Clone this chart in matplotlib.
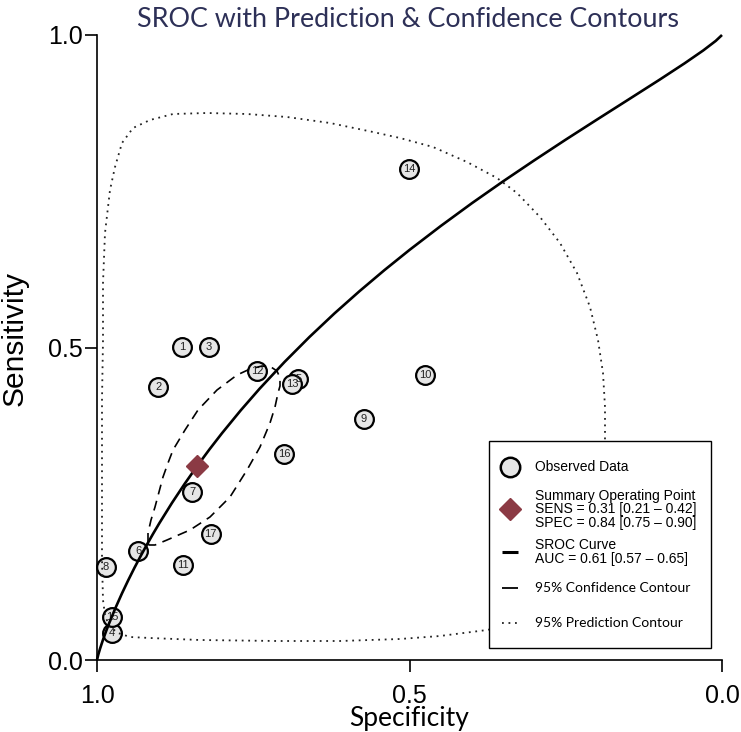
import matplotlib
matplotlib.use("Agg")
import matplotlib.pyplot as plt
from matplotlib.patches import Rectangle

# ---------------- data ----------------
study_ids = [str(i) for i in range(1, 18)]
study_spec = [0.864, 0.902, 0.821, 0.976, 0.678, 0.934, 0.848, 0.986, 0.573,
              0.475, 0.862, 0.744, 0.688, 0.501, 0.976, 0.701, 0.818]
study_sens = [0.501, 0.437, 0.501, 0.043, 0.450, 0.174, 0.269, 0.149, 0.386,
              0.456, 0.152, 0.463, 0.442, 0.786, 0.069, 0.330, 0.202]

summary_spec = 0.84
summary_sens = 0.31

# SROC curve (specificity, sensitivity) traced densely
sroc_spec = [1.0, 0.998, 0.995, 0.99, 0.985, 0.98, 0.97, 0.96, 0.95, 0.94, 0.93,
             0.92, 0.91, 0.90, 0.88, 0.86, 0.84, 0.82, 0.80, 0.77, 0.74, 0.70,
             0.66, 0.62, 0.58, 0.54, 0.50, 0.45, 0.40, 0.35, 0.30, 0.25, 0.20,
             0.15, 0.10, 0.06, 0.03, 0.01, 0.0]
sroc_sens = [0.0, 0.0084, 0.0185, 0.0336, 0.0473, 0.0602, 0.0843, 0.1067, 0.1277,
             0.1477, 0.1666, 0.1849, 0.2024, 0.2193, 0.2514, 0.2815, 0.3100,
             0.3371, 0.3629, 0.3995, 0.4339, 0.4768, 0.5169, 0.5546, 0.5901,
             0.6239, 0.6561, 0.6944, 0.7310, 0.7660, 0.7997, 0.8326, 0.8647,
             0.8965, 0.9284, 0.9546, 0.9753, 0.9906, 1.0]

# 95% confidence contour traced
conf_spec = [0.9184, 0.9184, 0.9136, 0.9072, 0.9008, 0.8944, 0.8864, 0.8784,
             0.8592, 0.8384, 0.808, 0.776, 0.7552, 0.736, 0.7216, 0.712, 0.7072,
             0.7072, 0.7104, 0.7152, 0.7232, 0.7392, 0.760, 0.7872, 0.8192,
             0.8512, 0.888, 0.9072, 0.9168, 0.9184]
conf_sens = [0.1872, 0.2032, 0.224, 0.2448, 0.2688, 0.2928, 0.3152, 0.336,
             0.368, 0.400, 0.432, 0.456, 0.4656, 0.4704, 0.4688, 0.4624, 0.4512,
             0.4384, 0.4272, 0.4048, 0.3792, 0.3408, 0.304, 0.2608, 0.2288,
             0.208, 0.192, 0.184, 0.184, 0.1872]

# 95% prediction contour traced
pred_spec = [0.9872, 0.9904, 0.992, 0.992, 0.992, 0.9904, 0.9904, 0.9872, 0.9792,
             0.9712, 0.960, 0.9424, 0.9152, 0.8784, 0.824, 0.760, 0.696, 0.6272,
             0.5584, 0.5152, 0.4624, 0.408, 0.360, 0.328, 0.2912, 0.2592, 0.232,
             0.2112, 0.1984, 0.1904, 0.1872, 0.1872, 0.1888, 0.1984, 0.2192,
             0.2592, 0.3152, 0.376, 0.4512, 0.5152, 0.6112, 0.712, 0.8352, 0.9152,
             0.9472, 0.9664, 0.9808, 0.9872]
pred_sens = [0.072, 0.096, 0.160, 0.288, 0.416, 0.512, 0.6032, 0.6832, 0.752,
             0.7888, 0.8272, 0.8512, 0.864, 0.8736, 0.8752, 0.8736, 0.8688, 0.8592,
             0.8448, 0.8352, 0.8208, 0.7968, 0.7712, 0.7472, 0.7088, 0.6672, 0.6192,
             0.5648, 0.512, 0.4592, 0.4048, 0.3552, 0.288, 0.208, 0.136,
             0.088, 0.0608, 0.048, 0.0384, 0.0336, 0.0304, 0.0304, 0.032, 0.0352,
             0.0368, 0.0432, 0.0544, 0.072]

tick_vals = [0.0, 0.5, 1.0]
tick_labels = ["0.0", "0.5", "1.0"]

title_text = "SROC with Prediction & Confidence Contours"
legend_lines = {
    "obs": ["Observed Data"],
    "sum": ["Summary Operating Point", "SENS = 0.31 [0.21 \u2013 0.42]",
            "SPEC = 0.84 [0.75 \u2013 0.90]"],
    "sroc": ["SROC Curve", "AUC = 0.61 [0.57 \u2013 0.65]"],
    "conf": ["95% Confidence Contour"],
    "pred": ["95% Prediction Contour"],
}

# ---------------- figure ----------------
W, H = 741, 732
fig = plt.figure(figsize=(W / 100, H / 100), dpi=100)
fig.patch.set_facecolor("white")
ax = fig.add_axes([97 / W, 1 - 660 / H, 625 / W, 625 / H])
ax.set_xlim(1, 0)
ax.set_ylim(0, 1)

HEL = "Liberation Sans"
MYR = "Lato"

for s in ["top", "right"]:
    ax.spines[s].set_visible(False)
for s in ["left", "bottom"]:
    ax.spines[s].set_linewidth(1.2)

ax.set_xticks(tick_vals)
ax.set_xticklabels(tick_labels)
ax.set_yticks(tick_vals)
ax.set_yticklabels(tick_labels)
ax.tick_params(axis="both", direction="out", length=8.5, width=1.2, labelsize=18)
ax.tick_params(axis="x", pad=8.5)
ax.tick_params(axis="y", pad=1.5)
for lab in ax.get_xticklabels() + ax.get_yticklabels():
    lab.set_fontfamily(HEL)

DOT = (0, (1, 2.6))

# points
ax.plot(study_spec, study_sens, linestyle="none", marker="o", ms=13.5,
        mfc="#e6e6e6", mec="black", mew=1.6, zorder=3, clip_on=False)
for sid, x, y in zip(study_ids, study_spec, study_sens):
    ax.text(x, y, sid, ha="center", va="center", fontsize=8, family=HEL,
            color="#222222", zorder=4)

# contours & curve
ax.plot(pred_spec, pred_sens, color="#222222", lw=1.3, linestyle=DOT,
        zorder=5)
ax.plot(conf_spec, conf_sens, color="black", lw=1.2, linestyle=(0, (6, 4)),
        zorder=5)
ax.plot(sroc_spec, sroc_sens, color="black", lw=1.9, zorder=6, clip_on=False,
        solid_capstyle="butt", solid_joinstyle="round")
ax.plot([summary_spec], [summary_sens], linestyle="none", marker="D", ms=11,
        mfc="#8b3a44", mec="#8b3a44", zorder=7)

# ---------------- legend (drawn in axes fraction) ----------------
def ay(py):
    return (660 - py) / 625.0

def axx(px):
    return (px - 97) / 625.0

T = ax.transAxes
ax.add_patch(Rectangle((axx(489), ay(648)), axx(711) - axx(489), ay(441) - ay(648),
                       transform=T, fc="white", ec="black", lw=1.0, zorder=10,
                       clip_on=False))
mx = axx(510)
tx = axx(535)
ax.plot([mx], [ay(467)], transform=T, marker="o", ms=14, mfc="#e6e6e6",
        mec="black", mew=1.8, zorder=11, clip_on=False)
ax.plot([mx], [ay(509)], transform=T, marker="D", ms=11, mfc="#8b3a44",
        mec="#8b3a44", zorder=11, clip_on=False)
ax.plot([axx(502), axx(518)], [ay(552), ay(552)], transform=T, color="black",
        lw=2.2, zorder=11, clip_on=False, solid_capstyle="butt")
ax.plot([axx(502), axx(518)], [ay(588), ay(588)], transform=T, color="black",
        lw=1.3, zorder=11, clip_on=False, solid_capstyle="butt")
ax.plot([axx(502), axx(519)], [ay(623), ay(623)], transform=T, color="#222222",
        lw=1.3, linestyle=DOT, zorder=11, clip_on=False)

def ltext(py, s, fam=HEL, size=10):
    ax.text(tx, ay(py), s, transform=T, ha="left", va="center", fontsize=size,
            family=fam, color="black", zorder=12)

ltext(467, legend_lines["obs"][0])
for py, s in zip([496, 509.5, 523], legend_lines["sum"]):
    ltext(py, s)
for py, s in zip([545, 559], legend_lines["sroc"]):
    ltext(py, s)
ltext(588, legend_lines["conf"][0], fam=MYR, size=10)
ltext(623, legend_lines["pred"][0], fam=MYR, size=10)

# ---------------- labels & title ----------------
fig.text(409.5 / W, 1 - 726 / H, "Specificity", ha="center", va="baseline",
         fontsize=19, family=MYR, color="black")
fig.text(15 / W, 1 - 339 / H, "Sensitivity", ha="center", va="center",
         rotation=90, fontsize=21.5, family=HEL, color="black")
fig.text(408 / W, 1 - 27 / H, title_text, ha="center", va="baseline",
         fontsize=19.4, family=MYR, color="#2d3057")

fig.savefig("out.png", dpi=100, facecolor="white")
